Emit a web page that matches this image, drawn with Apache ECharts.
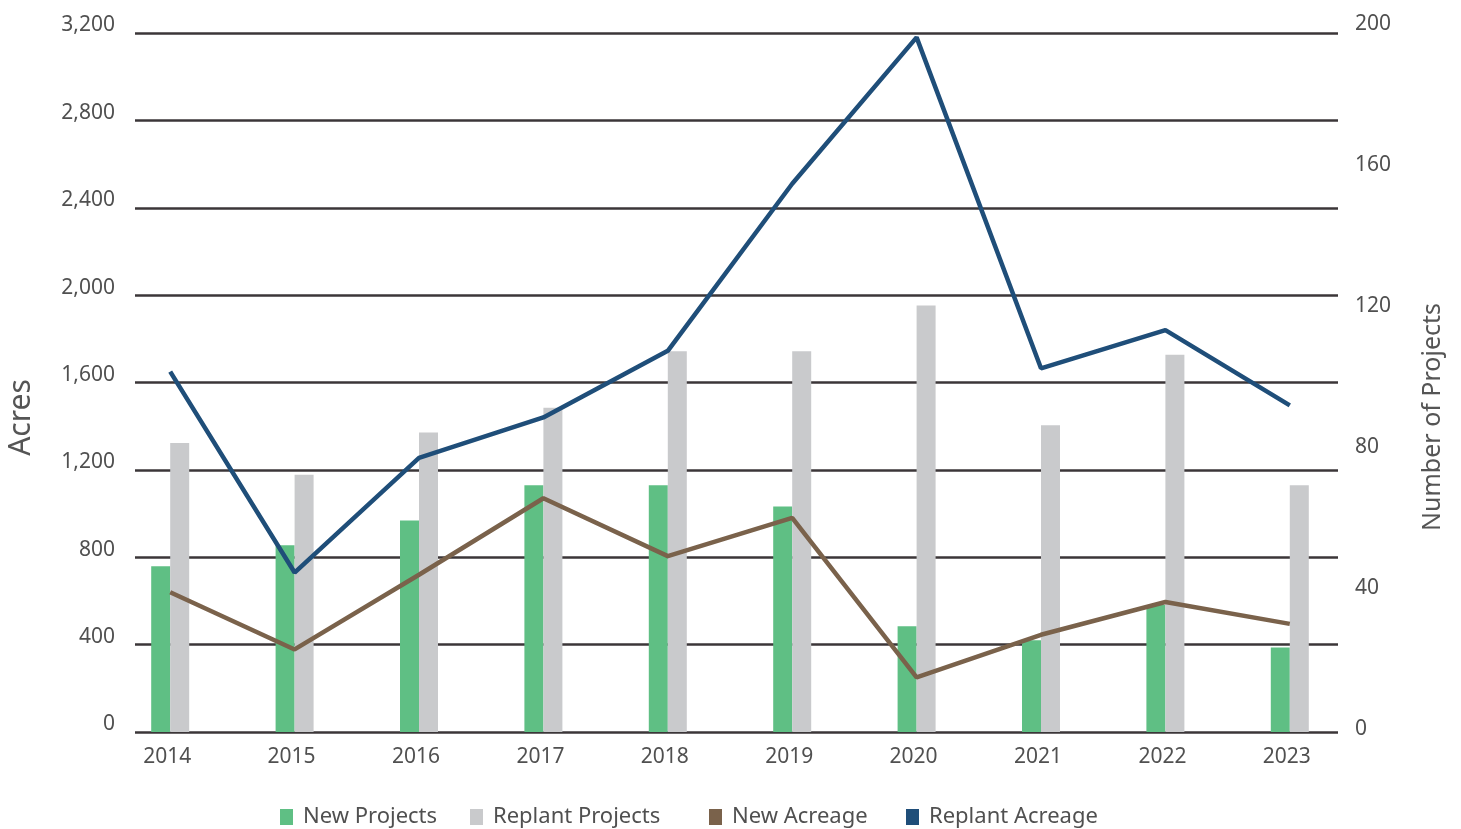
<!DOCTYPE html>
<html>
<head>
<meta charset="utf-8">
<script src="https://cdn.jsdelivr.net/npm/echarts@6/dist/echarts.min.js"></script>
<style>
html,body{margin:0;padding:0;background:#fff;}
#chart{width:1461px;height:829px;}
</style>
</head>
<body>
<div id="chart"></div>
<script>
const years = ['2014','2015','2016','2017','2018','2019','2020','2021','2022','2023'];
const newProjects = [47, 53, 60, 70, 70, 64, 30, 26, 36, 24];
const replantProjects = [82, 73, 85, 92, 108, 108, 121, 87, 107, 70];
const newAcreage = [640, 378, 720, 1070, 805, 980, 250, 445, 595, 495];
const replantAcreage = [1650, 730, 1255, 1440, 1745, 2510, 3180, 1665, 1840, 1495];
const acresTicks = {min: 0, max: 3200, interval: 400};
const projectTicks = {min: 0, max: 200, interval: 40};

const FONT = 'Noto Sans';
const TXT = '#505050';

const chart = echarts.init(document.getElementById('chart'));
const legendCommon = {
  orient: 'horizontal', top: 806, padding: 0, itemWidth: 13, itemHeight: 16, itemGap: 0,
  icon: 'rect',
  textStyle: {fontFamily: FONT, fontSize: 22, color: TXT, padding: [0,0,0,5]}
};
chart.setOption({
  backgroundColor: '#ffffff',
  animation: false,
  grid: [
    {left: 135, right: 123, top: 33, bottom: 97},
    {left: 108, right: 109, top: 33, bottom: 97},
    {left: 108, right: 109, top: 27, bottom: 97}
  ],
  legend: [
    Object.assign({}, legendCommon, {left: 280, data: ['New Projects']}),
    Object.assign({}, legendCommon, {left: 470, data: ['Replant Projects']}),
    Object.assign({}, legendCommon, {left: 709, data: ['New Acreage']}),
    Object.assign({}, legendCommon, {left: 906, data: ['Replant Acreage']})
  ],
  xAxis: [
    {gridIndex: 0, type: 'category', data: years, show: false},
    {gridIndex: 1, type: 'category', data: years,
      axisLine: {show: false}, axisTick: {show: false},
      axisLabel: {fontFamily: FONT, fontSize: 21, color: TXT, margin: 14, lineHeight: 22, padding: [0,6,0,0]}},
    {gridIndex: 2, type: 'category', data: years, show: false}
  ],
  yAxis: [
    {gridIndex: 0, type: 'value', position: 'left',
      min: acresTicks.min, max: acresTicks.max, interval: acresTicks.interval,
      axisLine: {show: false}, axisTick: {show: false},
      splitLine: {show: true, lineStyle: {color: '#3b3638', width: 2.5}},
      axisLabel: {fontFamily: FONT, fontSize: 21, color: TXT, margin: 20,
        verticalAlign: 'bottom', lineHeight: 15,
        formatter: v => v.toLocaleString('en-US')}},
    {gridIndex: 1, type: 'value', show: false,
      min: acresTicks.min, max: acresTicks.max, interval: acresTicks.interval,
      splitLine: {show: false}},
    {gridIndex: 2, type: 'value', position: 'right',
      min: projectTicks.min, max: projectTicks.max, interval: projectTicks.interval,
      axisLine: {show: false}, axisTick: {show: false}, splitLine: {show: false},
      axisLabel: {fontFamily: FONT, fontSize: 21, color: TXT, margin: 3,
        verticalAlign: 'bottom', lineHeight: 5}}
  ],
  graphic: [
    {type: 'text', x: 21.5, y: 417.5, rotation: Math.PI/2,
      style: {text: 'Acres', font: '30px "Noto Sans"', fill: '#555555', align: 'center', verticalAlign: 'middle'}},
    {type: 'text', x: 1433, y: 417, rotation: Math.PI/2,
      style: {text: 'Number of Projects', font: '25px "Noto Sans"', fill: '#555555', align: 'center', verticalAlign: 'middle'}}
  ],
  series: [
    {name: 'New Projects', type: 'bar', xAxisIndex: 2, yAxisIndex: 2, data: newProjects,
      barWidth: 19, barGap: '0%', itemStyle: {color: '#5fbf84'}},
    {name: 'Replant Projects', type: 'bar', xAxisIndex: 2, yAxisIndex: 2, data: replantProjects,
      barWidth: 19, barGap: '0%', itemStyle: {color: '#c9cacc'}},
    {name: 'New Acreage', type: 'line', xAxisIndex: 1, yAxisIndex: 1, data: newAcreage,
      symbol: 'none', lineStyle: {color: '#7a624b', width: 4.5}, itemStyle: {color: '#7a624b'}},
    {name: 'Replant Acreage', type: 'line', xAxisIndex: 1, yAxisIndex: 1, data: replantAcreage,
      symbol: 'none', lineStyle: {color: '#1f4e79', width: 4.5}, itemStyle: {color: '#1f4e79'}}
  ]
});
</script>
</body>
</html>
